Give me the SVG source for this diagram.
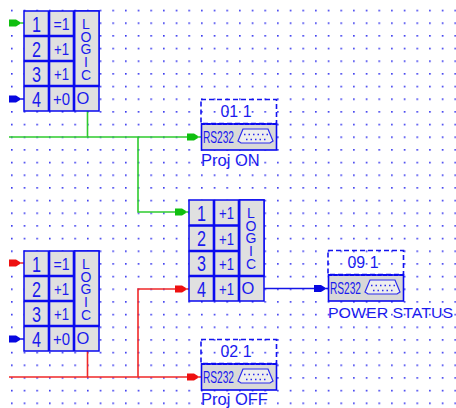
<svg xmlns="http://www.w3.org/2000/svg" width="456" height="408" viewBox="0 0 456 408">
<style>
text{font-family:"Liberation Sans",Arial,sans-serif;fill:#1a1aee;stroke:none}
.n{font-size:22px;text-anchor:middle}
.o{font-size:16.500px;text-anchor:middle}
.l{font-size:14px;text-anchor:middle}
.addr{font-size:16.500px;text-anchor:middle}
.cap{font-size:16.500px}
.rs{font-size:17px}
.cell{fill:#e0e0e0;stroke:#0a0af0;stroke-width:1.5}
.thick{stroke:#0a0af0;stroke-width:2.6;fill:none}
.dash{fill:none;stroke:#1414f0;stroke-width:1.6;stroke-dasharray:5 3}
.dev{fill:#d8d8d8;stroke:#0a0af0;stroke-width:1.6}
.topbar{stroke:#0a0af0;stroke-width:2;stroke-dasharray:4 1.5}
.db{fill:#eeeeee;stroke:#2a2aee;stroke-width:1.2}
.pin{fill:none;stroke:#2a2aee;stroke-width:1.5;stroke-dasharray:1.5 3}
.w{fill:none;stroke-width:1.6}
.g{stroke:#2ecb2e}.r{stroke:#f02828}.b{stroke:#1414e6}
.hg{fill:#0fbf0f}.hr{fill:#ee1010}.hb{fill:#0808e0}
</style>
<defs>
<pattern id="dots" x="11" y="9.700" width="12.670" height="12.670" patternUnits="userSpaceOnUse">
<rect x="0" y="0" width="1.600" height="1.600" fill="#3030ee"/>
</pattern>
<path id="head" d="M0-3.500H7L11-1V1L7 3.500H0Z"/>
<path id="dbs" d="M0 12 5 0H30L35 12 32 14H3Z"/>
</defs>
<rect width="456" height="408" fill="#fff"/>
<rect x="8" y="8" width="448" height="400" fill="url(#dots)"/>

<g id="connectors">
<path class="w g" d="M12 23H24M9 137H190M87.500 111V137M138 137V212H178"/>
<path class="w b" d="M12 99H24M12 339H24M264 288.500H316"/>
<path class="w r" d="M12 263H24M9 377H190M87.500 351V377M138 377V289H178"/>
<use href="#head" class="hg" x="9" y="23"/>
<use href="#head" class="hb" x="9" y="99"/>
<use href="#head" class="hr" x="9" y="263"/>
<use href="#head" class="hb" x="9" y="339"/>
<use href="#head" class="hg" x="187" y="137"/>
<use href="#head" class="hg" x="175" y="212"/>
<use href="#head" class="hr" x="175" y="289"/>
<use href="#head" class="hr" x="187" y="377"/>
<use href="#head" class="hb" x="314" y="288.500"/>
<path class="w g" d="M197 137H201M185 212H189"/>
<path class="w r" d="M197 377H201M185 289H189"/>
<path class="w b" d="M324 288.500H328"/>
</g>

<g id="logic1">
<rect class="cell" x="24" y="11" width="75" height="100"/>
<rect class="cell" x="74.500" y="11" width="24.500" height="75"/>
<path class="thick" d="M49 11V111M74 11V111M24 36H74M24 61H74M24 86H99"/>
<text class="n" x="36.500" y="31.500" textLength="9" lengthAdjust="spacingAndGlyphs">1</text><text class="n" x="36.500" y="57" textLength="9" lengthAdjust="spacingAndGlyphs">2</text><text class="n" x="36.500" y="82" textLength="9" lengthAdjust="spacingAndGlyphs">3</text><text class="n" x="36.500" y="107" textLength="9" lengthAdjust="spacingAndGlyphs">4</text>
<text class="o" x="61.500" y="30" textLength="16" lengthAdjust="spacingAndGlyphs">=1</text><text class="o" x="61.500" y="55" textLength="15" lengthAdjust="spacingAndGlyphs">+1</text><text class="o" x="61.500" y="80" textLength="15" lengthAdjust="spacingAndGlyphs">+1</text><text class="o" x="61.500" y="105" textLength="17" lengthAdjust="spacingAndGlyphs">+0</text>
<text class="l" x="86 86 86 86 86" y="28.500" dy="0 13 12.500 13 13">LOGIC</text>
<text class="o" x="83" y="104">O</text>
</g>

<g id="logic2">
<rect class="cell" x="24" y="251" width="75" height="100"/>
<rect class="cell" x="74.500" y="251" width="24.500" height="75"/>
<path class="thick" d="M49 251V351M74 251V351M24 276H74M24 301H74M24 326H99"/>
<text class="n" x="36.500" y="271.500" textLength="9" lengthAdjust="spacingAndGlyphs">1</text><text class="n" x="36.500" y="297" textLength="9" lengthAdjust="spacingAndGlyphs">2</text><text class="n" x="36.500" y="322" textLength="9" lengthAdjust="spacingAndGlyphs">3</text><text class="n" x="36.500" y="347" textLength="9" lengthAdjust="spacingAndGlyphs">4</text>
<text class="o" x="61.500" y="270" textLength="16" lengthAdjust="spacingAndGlyphs">=1</text><text class="o" x="61.500" y="295" textLength="15" lengthAdjust="spacingAndGlyphs">+1</text><text class="o" x="61.500" y="320" textLength="15" lengthAdjust="spacingAndGlyphs">+1</text><text class="o" x="61.500" y="345" textLength="17" lengthAdjust="spacingAndGlyphs">+0</text>
<text class="l" x="86 86 86 86 86" y="268.500" dy="0 13 12.500 13 13">LOGIC</text>
<text class="o" x="83" y="344">O</text>
</g>

<g id="logic3">
<rect class="cell" x="189" y="200" width="75" height="101"/>
<rect class="cell" x="239.500" y="200" width="24.500" height="76"/>
<path class="thick" d="M214 200V301M239 200V301M189 225.500H239M189 251H239M189 276H264"/>
<text class="n" x="201.500" y="220.500" textLength="9" lengthAdjust="spacingAndGlyphs">1</text><text class="n" x="201.500" y="246" textLength="9" lengthAdjust="spacingAndGlyphs">2</text><text class="n" x="201.500" y="271" textLength="9" lengthAdjust="spacingAndGlyphs">3</text><text class="n" x="201.500" y="296.500" textLength="9" lengthAdjust="spacingAndGlyphs">4</text>
<text class="o" x="226.500" y="219" textLength="15" lengthAdjust="spacingAndGlyphs">+1</text><text class="o" x="226.500" y="244.500" textLength="15" lengthAdjust="spacingAndGlyphs">+1</text><text class="o" x="226.500" y="269.500" textLength="15" lengthAdjust="spacingAndGlyphs">+1</text><text class="o" x="226.500" y="295" textLength="15" lengthAdjust="spacingAndGlyphs">+1</text>
<text class="l" x="251 251 251 251 251" y="217.500" dy="0 13 12.500 13 13">LOGIC</text>
<text class="o" x="248" y="294">O</text>
</g>

<g id="rs232-on">
<rect class="dash" x="201" y="99.500" width="75.500" height="24"/>
<rect class="dev" x="201.500" y="124" width="75" height="26"/>
<path class="topbar" d="M201 124H277"/>
<text class="addr" x="236" y="117" textLength="31" lengthAdjust="spacingAndGlyphs">01 1</text>
<text class="rs" x="203" y="143" textLength="31" lengthAdjust="spacingAndGlyphs">RS232</text>
<use href="#dbs" class="db" x="238" y="129"/>
<path class="pin" d="M244 134.500H268M246 139.500H266"/>
<text class="cap" x="201" y="166">Proj ON</text>
</g>

<g id="rs232-status">
<rect class="dash" x="328" y="250.500" width="75.500" height="24"/>
<rect class="dev" x="328.500" y="275" width="75" height="26"/>
<path class="topbar" d="M328 275H404"/>
<text class="addr" x="363" y="268" textLength="31" lengthAdjust="spacingAndGlyphs">09 1</text>
<text class="rs" x="330" y="294" textLength="31" lengthAdjust="spacingAndGlyphs">RS232</text>
<use href="#dbs" class="db" x="365" y="280"/>
<path class="pin" d="M371 285.500H395M373 290.500H393"/>
<text class="cap" x="328" y="318" font-size="15" style="font-size:15px" textLength="125" lengthAdjust="spacingAndGlyphs">POWER STATUS</text>
</g>

<g id="rs232-off">
<rect class="dash" x="201" y="339.500" width="75.500" height="24"/>
<rect class="dev" x="201.500" y="364" width="75" height="26"/>
<path class="topbar" d="M201 364H277"/>
<text class="addr" x="236" y="357" textLength="31" lengthAdjust="spacingAndGlyphs">02 1</text>
<text class="rs" x="203" y="383" textLength="31" lengthAdjust="spacingAndGlyphs">RS232</text>
<use href="#dbs" class="db" x="238" y="369"/>
<path class="pin" d="M244 374.500H268M246 379.500H266"/>
<text class="cap" x="201" y="405">Proj OFF</text>
</g>
</svg>
